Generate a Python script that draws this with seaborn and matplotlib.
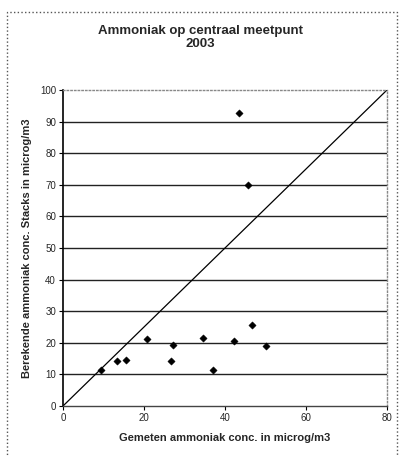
import numpy as np
import pandas as pd
import matplotlib.pyplot as plt
import seaborn as sns
from matplotlib.patches import Rectangle

gemeten = [9.3, 13.4, 15.6, 20.8, 26.7, 27.1, 34.5, 37.0, 42.1, 43.5, 45.7, 46.7, 50.1]
berekend = [11.4, 14.3, 14.6, 21.1, 14.3, 19.4, 21.6, 11.4, 20.7, 92.7, 69.9, 25.5, 18.9]
lijn_x = [0, 80]
lijn_y = [0, 100]

df = pd.DataFrame({'gemeten': gemeten, 'berekend': berekend})

sns.set_style('white')
plt.rcParams['font.family'] = ['Liberation Sans', 'DejaVu Sans']

fig = plt.figure(figsize=(4, 4.57), dpi=100)
ax = fig.add_axes([0.1575, 0.1116, 0.81, 0.6915])

# horizontal gridlines
for y in range(10, 100, 10):
    ax.axhline(y, color='#222222', lw=1.0, zorder=1)

sns.lineplot(x=lijn_x, y=lijn_y, ax=ax, color='black', lw=0.9, zorder=2)
sns.scatterplot(data=df, x='gemeten', y='berekend', ax=ax, marker='D', s=14,
                color='black', edgecolor='black', zorder=3)

ax.set_xlim(0, 80)
ax.set_ylim(0, 100)
ax.set_xticks([0, 20, 40, 60, 80])
ax.set_yticks(range(0, 101, 10))
ax.tick_params(labelsize=7, length=3, color='black', direction='out', pad=2)
ax.tick_params(axis='x', bottom=True, width=0.8)
ax.tick_params(axis='y', left=True, width=0.8)

for side in ['top', 'right', 'bottom']:
    ax.spines[side].set_color('#888888')
    ax.spines[side].set_linestyle(':')
    ax.spines[side].set_linewidth(1.0)
ax.spines['left'].set_color('black')
ax.spines['left'].set_linewidth(1.2)
ax.spines['bottom'].set_color('#444444')
ax.spines['bottom'].set_linestyle('-')

ax.set_xlabel('Gemeten ammoniak conc. in microg/m3', fontsize=8, fontweight='bold', labelpad=7)
ax.set_ylabel('Berekende ammoniak conc. Stacks in microg/m3', fontsize=8, fontweight='bold', labelpad=6)

fig.text(0.5, 0.918, 'Ammoniak op centraal meetpunt\n2003', ha='center', va='center',
         fontsize=9.5, fontweight='bold', linespacing=1.15)

# dotted frame around the whole chart
fig.patches.append(Rectangle((0.018, -0.01), 0.975, 0.984, transform=fig.transFigure,
                             fill=False, ec='#555555', ls=':', lw=1.0))

fig.savefig('out.png', dpi=100)
